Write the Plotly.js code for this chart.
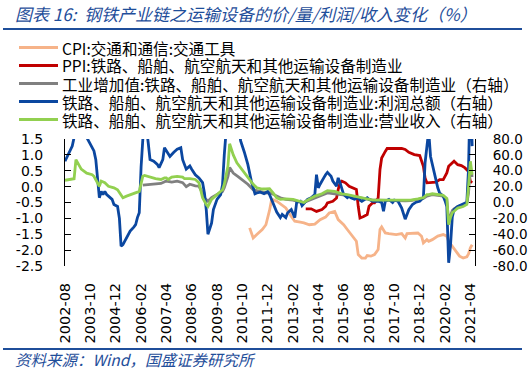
<!DOCTYPE html>
<html>
<head>
<meta charset="utf-8">
<script src="https://cdn.plot.ly/plotly-3.0.1.min.js"></script>
<style>html,body{margin:0;padding:0;background:#fff;}#chart{width:532px;height:378px;}</style>
</head>
<body>
<div id="chart"></div>
<script>
// ---------- DATA ----------
const chartTitle = '<i>图表 16:  钢铁产业链之运输设备的价/量/利润/收入变化（%）</i>';
const sourceText = '<i>资料来源：Wind，国盛证券研究所</i>';

const xTickLabels = ['2002-08','2003-10','2004-12','2006-02','2007-04','2008-06','2009-08','2010-10','2011-12','2013-02','2014-04','2015-06','2016-08','2017-10','2018-12','2020-02','2021-04'];
const leftTickText  = ['1.5','1.0','0.5','0.0','-0.5','-1.0','-1.5','-2.0','-2.5'];
const rightTickText = ['80.0','60.0','40.0','20.0','0.0','-20.0','-40.0','-60.0','-80.0'];

const seriesNames = [
  'CPI:交通和通信:交通工具',
  'PPI:铁路、船舶、航空航天和其他运输设备制造业',
  '工业增加值:铁路、船舶、航空航天和其他运输设备制造业（右轴）',
  '铁路、船舶、航空航天和其他运输设备制造业:利润总额（右轴）',
  '铁路、船舶、航空航天和其他运输设备制造业:营业收入（右轴）'
];

// CPI (left axis)
const cpiDates = ['2011-02','2011-04','2011-06','2011-09','2011-11','2011-12','2012-01','2012-02','2012-03','2012-05','2012-08','2012-10','2013-01','2013-03','2013-06','2013-08','2013-11','2014-02','2014-05','2014-08','2014-10','2015-01','2015-03','2015-06','2015-08','2015-11','2016-01','2016-02','2016-04','2016-06','2016-07','2016-09','2016-11','2017-01','2017-02','2017-03','2017-05','2017-07','2017-11','2018-02','2018-04','2018-05','2018-08','2018-11','2019-01','2019-02','2019-04','2019-05','2019-07','2019-10','2020-01','2020-03','2020-04','2020-06','2020-08','2020-10','2020-12','2021-02','2021-03','2021-04','2021-05'];
const cpiValues = [-1.30,-1.62,-1.51,-1.35,-1.20,-0.99,-0.75,-0.45,-0.41,-0.46,-0.57,-0.67,-0.94,-1.09,-1.12,-1.14,-1.20,-1.18,-1.04,-0.96,-0.83,-0.78,-1.04,-1.20,-1.35,-1.56,-1.72,-2.14,-2.25,-2.25,-2.17,-2.19,-2.14,-1.98,-1.35,-1.27,-1.46,-1.48,-1.51,-1.48,-1.62,-1.48,-1.46,-1.46,-1.56,-1.77,-1.67,-1.72,-1.67,-1.56,-1.51,-1.56,-1.72,-1.88,-2.04,-2.19,-2.25,-2.21,-2.12,-1.93,-1.83];

// PPI (left axis)
const ppiDates = ['2013-09','2013-12','2014-03','2014-06','2014-08','2014-09','2014-12','2015-02','2015-03','2015-04','2015-05','2015-07','2015-09','2015-11','2016-01','2016-02','2016-03','2016-05','2016-07','2016-08','2016-10','2016-11','2017-01','2017-02','2017-03','2017-05','2017-06','2017-10','2018-02','2018-04','2018-06','2018-09','2018-12','2019-02','2019-03','2019-04','2019-07','2019-09','2019-11','2020-01','2020-03','2020-04','2020-07','2020-09','2020-11','2021-01','2021-03','2021-04','2021-05'];
const ppiValues = [-0.70,-0.70,-0.78,-0.72,-0.62,-0.51,-0.46,-0.36,-0.09,0.12,0.17,0.12,0.01,-0.04,-0.09,-0.62,-0.99,-0.94,-0.88,-0.62,-0.51,-0.51,-0.36,0.54,0.90,1.11,1.20,1.20,1.20,1.17,1.08,1.01,0.98,0.64,0.27,0.12,0.12,0.14,0.22,0.22,0.43,0.64,0.80,0.69,0.66,0.59,0.48,0.17,0.12];

// 工业增加值 (right axis)
const iavDates = ['2006-03','2006-09','2007-01','2007-04','2007-07','2007-10','2008-01','2008-03','2008-05','2008-08','2008-10','2008-12','2009-01','2009-03','2009-05','2009-08','2009-11','2009-12','2010-02','2010-03','2010-05','2010-08','2010-11','2011-01','2011-04','2011-07','2011-11','2012-01','2012-05','2012-07','2012-10','2013-02','2013-05','2013-08','2013-10','2014-02','2014-06','2014-09','2015-01','2015-05','2015-08','2015-12','2016-04','2016-07','2016-10','2017-01','2017-05','2017-08','2017-12','2018-04','2018-07','2018-11','2019-02','2019-04','2019-07','2019-10','2020-01','2020-03','2020-04','2020-05','2020-06','2020-07','2020-09','2020-12','2021-02','2021-03','2021-04','2021-05'];
const iavValues = [22,23,24,27,25.6,27,25,20,23,21,20.5,12,6,1.6,6,10,14,18.5,33,44,37,32,27,23,16,14,12,12.5,8,6,4,3,1,0,2,6,9,12,11,10,9,7,5.5,4,3,3,2.5,2.5,2.5,2,2.5,4,5,8,10,9,8,4,-25,-17,-10,-8,-5,-3,-1,12,45,32];

// 利润总额 (right axis)
const profitDates = ['2002-08','2002-10','2002-11','2002-12','2003-01','2003-04','2003-08','2003-10','2003-12','2004-01','2004-02','2004-03','2004-04','2004-05','2004-06','2004-07','2004-08','2004-10','2004-11','2005-01','2005-02','2005-03','2005-04','2005-06','2005-08','2005-10','2005-11','2005-12','2006-01','2006-02','2006-03','2006-04','2006-06','2006-07','2006-09','2006-11','2006-12','2007-02','2007-03','2007-04','2007-06','2007-08','2007-10','2007-12','2008-01','2008-03','2008-05','2008-06','2008-08','2008-10','2008-12','2009-01','2009-02','2009-03','2009-05','2009-06','2009-08','2009-10','2009-11','2009-12','2010-01','2010-02','2010-08','2010-09','2010-11','2011-01','2011-03','2011-05','2011-06','2011-08','2011-10','2011-12','2012-01','2012-03','2012-05','2012-07','2012-08','2012-10','2012-11','2013-01','2013-02','2013-03','2013-04','2013-06','2013-07','2013-09','2013-10','2013-12','2014-02','2014-03','2014-04','2014-05','2014-06','2014-07','2014-08','2014-09','2014-11','2014-12','2015-02','2015-03','2015-04','2015-05','2015-06','2015-08','2015-09','2015-10','2015-12','2016-02','2016-03','2016-04','2016-06','2016-07','2016-08','2016-10','2016-11','2017-01','2017-03','2017-04','2017-05','2017-07','2017-09','2017-10','2017-12','2018-02','2018-04','2018-05','2018-06','2018-08','2018-10','2018-12','2019-02','2019-03','2019-04','2019-05','2019-06','2019-07','2019-08','2019-09','2019-10','2019-11','2019-12','2020-01','2020-02','2020-03','2020-04','2020-05','2020-06','2020-07','2020-09','2020-11','2021-01','2021-02','2021-03','2021-04','2021-05'];
const profitValues = [52,62,66,71,82,110,82,73,65,54,30,6,14,10,14,10,8,4,-2.5,-5,-20,-55,-53,-44.5,-36,-31,-28,-19,-13,45,110,115,75,54,52,48,44,54,69,65,58,63,67,69,54,42,46,42,35,31,25,12,-9,-40,-26,-9,4,10,22,60,90,120,100,78,64,48,27,11,12,13,11,14,10,0,-12,-19,-15,-19,-13,-9,-15,-19,0,1.6,-4,2,4,6,10,35,18.5,23,28,31,35,38,33,27,20.5,31,25,18.5,10,6,8,6,4,6,3,1.6,4,6,4,1.6,1.6,1.6,0,-11,1.6,4,0,3,1.6,-7,-21,-15,-9,-2.5,0.4,1.6,6,50,75,90,58,48,37,30,18.5,12,10,8,2,-5,-76,-55,-18,-9,-5,-2.5,0,0.4,42,150,71];

// 营业收入 (right axis)
const revenueDates = ['2002-08','2002-10','2003-01','2003-02','2003-04','2003-05','2003-08','2003-11','2003-12','2004-02','2004-03','2004-04','2004-06','2004-08','2004-11','2005-01','2005-03','2005-04','2005-06','2005-08','2005-10','2005-12','2006-01','2006-02','2006-03','2006-04','2006-07','2006-10','2007-01','2007-03','2007-04','2007-05','2007-07','2007-10','2008-01','2008-02','2008-05','2008-08','2008-10','2008-11','2008-12','2009-02','2009-03','2009-05','2009-07','2009-09','2009-11','2009-12','2010-02','2010-03','2010-05','2010-07','2010-09','2010-11','2011-02','2011-04','2011-06','2011-09','2011-11','2012-01','2012-03','2012-05','2012-07','2012-10','2013-02','2013-05','2013-08','2013-10','2014-02','2014-06','2014-09','2015-01','2015-05','2015-08','2015-12','2016-04','2016-07','2016-10','2017-01','2017-05','2017-08','2017-12','2018-04','2018-07','2018-11','2019-02','2019-04','2019-05','2019-07','2019-10','2020-01','2020-03','2020-04','2020-05','2020-06','2020-07','2020-09','2020-12','2021-02','2021-03','2021-04','2021-05'];
const revenueValues = [28,29,30,54,46,42,37,35,33,25,20.5,27,25,20.5,18.5,16,10,6,8,10,12,13,14,25,33,34,32,30,29,31,31,29,32,33,32,30,30,29,25,14,6,-2.5,-5,4,8,12,16,23,46,74,60,50,44,37,29,23,18.5,17,17,17.5,12,6,4,4.6,4,1.6,0,3,8,11,15,14,11,10,8,6,4,3,3,3,3,3,2.5,3,4.6,6,10,10,11,10,9,5,-28,-19,-13,-11,-7,-5,-2.5,20,52,35];

// ---------- STYLE / LAYOUT ----------
const colors = ['#F6B389','#C00000','#808080','#0B47A0','#92D050'];
const L = 65, R = 475, T = 139, B = 266, W = R - L, H = B - T;
const px = x => (x - L) / W;
const py = y => (B - y) / H;
const numFont = {family: 'DejaVu Sans', size: 14, color: '#000'};

function line(x, y, i, axis) {
  return {x: x, y: y, type: 'scatter', mode: 'lines', name: seriesNames[i],
          yaxis: axis, line: {color: colors[i], width: 2.8}, showlegend: false, hoverinfo: 'skip'};
}
const traces = [
  line(cpiDates, cpiValues, 0, 'y'),
  line(ppiDates, ppiValues, 1, 'y'),
  line(iavDates, iavValues, 2, 'y2'),
  line(profitDates, profitValues, 3, 'y2'),
  line(revenueDates, revenueValues, 4, 'y2')
];

const xRange = ['2002-08-01', '2021-06-18'];
const shapes = [
  {type: 'line', xref: 'paper', yref: 'paper', x0: px(3), x1: px(522), y0: py(29), y1: py(29), line: {color: '#1F4E9A', width: 2.2}},
  {type: 'line', xref: 'paper', yref: 'paper', x0: px(3), x1: px(522), y0: py(349), y1: py(349), line: {color: '#1F4E9A', width: 2.2}}
];
const annotations = [
  {xref: 'paper', yref: 'paper', x: px(13), y: py(13), xanchor: 'left', yanchor: 'middle', showarrow: false,
   text: chartTitle, font: {family: 'Noto Sans CJK SC', size: 17, color: '#1F4E9A'}},
  {xref: 'paper', yref: 'paper', x: px(13), y: py(359), xanchor: 'left', yanchor: 'middle', showarrow: false,
   text: sourceText, font: {family: 'Noto Sans CJK SC', size: 15.5, color: '#1F4E9A'}}
];
seriesNames.forEach((n, i) => {
  const yy = 47.5 + 18 * i;
  shapes.push({type: 'line', xref: 'paper', yref: 'paper', x0: px(19), x1: px(58), y0: py(yy), y1: py(yy),
               line: {color: colors[i], width: 3}});
  annotations.push({xref: 'paper', yref: 'paper', x: px(60), y: py(yy), xanchor: 'left', yanchor: 'middle',
                    showarrow: false, text: n,
                    font: {family: 'Noto Sans CJK SC', size: 15.6, color: '#000'}});
});

const layout = {
  width: 532, height: 378,
  margin: {l: L, r: 532 - R, t: T, b: 378 - B, pad: 0},
  paper_bgcolor: '#fff', plot_bgcolor: '#fff',
  showlegend: false,
  xaxis: {type: 'date', range: xRange, tickvals: xTickLabels, ticktext: xTickLabels, tickangle: -90,
          ticks: '', showline: false, showgrid: false, zeroline: false,
          tickfont: {family: 'DejaVu Sans', size: 14.5, color: '#000'}, ticklabelstandoff: 13},
  xaxis2: {type: 'date', range: xRange, tickvals: xTickLabels, overlaying: 'x', anchor: 'free', position: 0.625,
           side: 'top', ticks: 'outside', ticklen: 5, tickcolor: '#000', showticklabels: false,
           showline: true, linecolor: '#000', linewidth: 1.3, showgrid: false, zeroline: false},
  yaxis: {range: [-2.5, 1.5], tickvals: leftTickText.map(Number), ticktext: leftTickText, ticks: 'inside', ticklen: 6,
          tickcolor: '#000', showline: true, linecolor: '#000', linewidth: 1, showgrid: false, zeroline: false,
          tickfont: numFont, ticklabelstandoff: 18},
  yaxis2: {range: [-80, 80], overlaying: 'y', side: 'right', tickvals: rightTickText.map(Number), ticktext: rightTickText,
           ticks: 'inside', ticklen: 6, tickcolor: '#000', showline: true, linecolor: '#000', linewidth: 1,
           showgrid: false, zeroline: false, tickfont: {family: 'DejaVu Sans', size: 13.5, color: '#000'},
           ticklabelstandoff: 14},
  shapes: shapes,
  annotations: annotations
};
Plotly.newPlot('chart', traces, layout, {staticPlot: true, displayModeBar: false});
</script>
</body>
</html>
